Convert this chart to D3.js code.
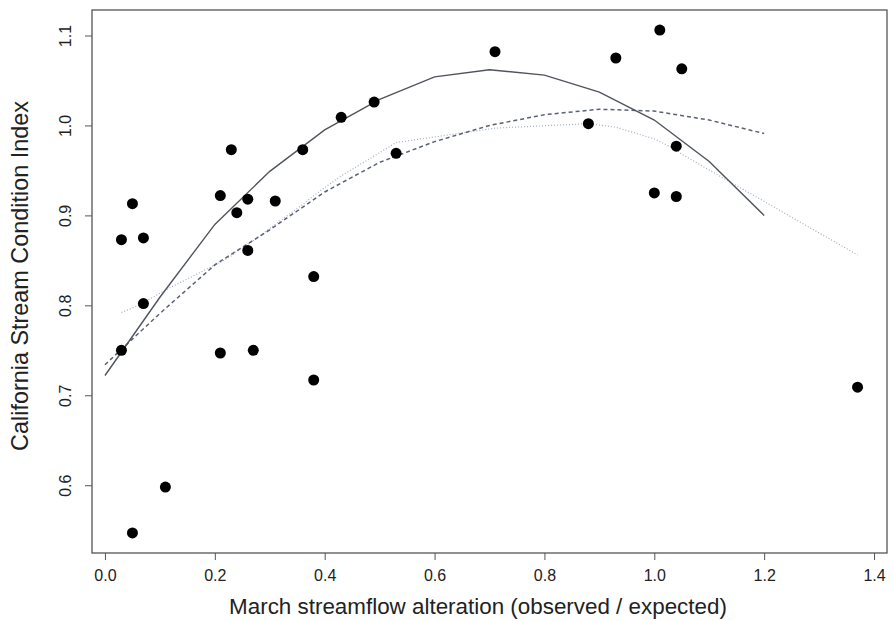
<!DOCTYPE html>
<html>
<head>
<meta charset="utf-8">
<script src="https://cdn.jsdelivr.net/npm/d3@7"></script>
<style>
  body { margin: 0; background: #fff; }
  text { font-family: "Liberation Sans", Arial, sans-serif; fill: #222; }
</style>
</head>
<body>
<div id="chart"></div>
<script>
// observed points
var ptX = [0.03, 0.03, 0.05, 0.05, 0.07, 0.07, 0.11, 0.21, 0.21, 0.23, 0.24, 0.26, 0.26, 0.27, 0.31,
           0.36, 0.38, 0.38, 0.43, 0.49, 0.53, 0.71, 0.88, 0.93, 1.00, 1.01, 1.04, 1.04, 1.05, 1.37];
var ptY = [0.873, 0.750, 0.913, 0.547, 0.875, 0.802, 0.598, 0.922, 0.747, 0.973, 0.903, 0.918, 0.861, 0.750, 0.916,
           0.973, 0.832, 0.717, 1.009, 1.026, 0.969, 1.082, 1.002, 1.075, 0.925, 1.106, 0.977, 0.921, 1.063, 0.709];

// fitted curves
var fitX = [0.0, 0.1, 0.2, 0.3, 0.4, 0.5, 0.6, 0.7, 0.8, 0.9, 1.0, 1.1, 1.2];
var solidY = [0.722, 0.809, 0.890, 0.949, 0.995, 1.029, 1.054, 1.062, 1.056, 1.037, 1.006, 0.960, 0.900];
var dashedY = [0.734, 0.791, 0.845, 0.884, 0.926, 0.959, 0.982, 1.000, 1.012, 1.018, 1.016, 1.006, 0.991];

var lowX = [0.03, 0.05, 0.07, 0.11, 0.21, 0.23, 0.24, 0.26, 0.27, 0.31, 0.36, 0.38,
            0.43, 0.49, 0.53, 0.71, 0.88, 0.93, 1.00, 1.01, 1.04, 1.05, 1.37];
var lowY = [0.792, 0.797, 0.803, 0.817, 0.848, 0.855, 0.860, 0.868, 0.872, 0.890, 0.912, 0.922,
            0.944, 0.966, 0.981, 0.997, 1.002, 0.998, 0.985, 0.982, 0.973, 0.968, 0.856];

var xTicks = [0.0, 0.2, 0.4, 0.6, 0.8, 1.0, 1.2, 1.4];
var yTicks = [0.6, 0.7, 0.8, 0.9, 1.0, 1.1];

var width = 894, height = 621;
var margin = {top: 10, right: 7, bottom: 68, left: 92};

var svg = d3.select("#chart")
    .append("svg")
    .attr("width", width)
    .attr("height", height);

// R style 4% padding around data range
var xr = d3.extent(ptX), yr = d3.extent(ptY);
var xp = (xr[1] - xr[0]) * 0.04, yp = (yr[1] - yr[0]) * 0.04;

var x = d3.scaleLinear()
    .domain([xr[0] - xp, xr[1] + xp])
    .range([margin.left, width - margin.right]);

var y = d3.scaleLinear()
    .domain([yr[0] - yp, yr[1] + yp])
    .range([height - margin.bottom, margin.top]);

var fmt = d3.format(".1f");

svg.append("g")
    .attr("transform", "translate(0," + (height - margin.bottom) + ")")
    .call(d3.axisBottom(x).tickValues(xTicks).tickFormat(fmt).tickSize(7).tickPadding(10))
    .call(function(g) {
      g.select(".domain").remove();
      g.selectAll("line").attr("stroke", "#555");
      g.selectAll("text").style("font-size", "16px").attr("fill", "#222");
    });

svg.append("g")
    .attr("transform", "translate(" + margin.left + ",0)")
    .call(d3.axisLeft(y).tickValues(yTicks).tickFormat(fmt).tickSize(7))
    .call(function(g) {
      g.select(".domain").remove();
      g.selectAll("line").attr("stroke", "#555");
      g.selectAll("text")
          .attr("x", 0).attr("y", 0).attr("dy", null)
          .attr("transform", "translate(-27,0) rotate(-90)")
          .attr("text-anchor", "middle")
          .attr("dominant-baseline", "central")
          .style("font-size", "16px").attr("fill", "#222");
    });

// plot box
svg.append("rect")
    .attr("x", margin.left)
    .attr("y", margin.top)
    .attr("width", width - margin.left - margin.right)
    .attr("height", height - margin.top - margin.bottom)
    .attr("fill", "none")
    .attr("stroke", "#555")
    .attr("stroke-width", 1.3);

var line = d3.line()
    .x(function(d) { return x(d[0]); })
    .y(function(d) { return y(d[1]); });

svg.append("path")
    .datum(d3.zip(lowX, lowY))
    .attr("d", line)
    .attr("fill", "none")
    .attr("stroke", "#a4acc4")
    .attr("stroke-width", 1.2)
    .attr("stroke-dasharray", "1,2");

svg.append("path")
    .datum(d3.zip(fitX, dashedY))
    .attr("d", line)
    .attr("fill", "none")
    .attr("stroke", "#5a6272")
    .attr("stroke-width", 1.5)
    .attr("stroke-dasharray", "4,3");

svg.append("path")
    .datum(d3.zip(fitX, solidY))
    .attr("d", line)
    .attr("fill", "none")
    .attr("stroke", "#50545c")
    .attr("stroke-width", 1.4);

svg.selectAll(".pt")
    .data(d3.zip(ptX, ptY))
    .enter().append("circle")
      .attr("class", "pt")
      .attr("cx", function(d) { return x(d[0]); })
      .attr("cy", function(d) { return y(d[1]); })
      .attr("r", 5.5)
      .attr("fill", "#000");

// axis titles
svg.append("text")
    .attr("x", 478)
    .attr("y", 606)
    .attr("text-anchor", "middle")
    .attr("dominant-baseline", "central")
    .style("font-size", "22.4px")
    .text("March streamflow alteration (observed / expected)");

svg.append("text")
    .attr("transform", "translate(20,276) rotate(-90)")
    .attr("text-anchor", "middle")
    .attr("dominant-baseline", "central")
    .style("font-size", "23.4px")
    .text("California Stream Condition Index");
</script>
</body>
</html>
